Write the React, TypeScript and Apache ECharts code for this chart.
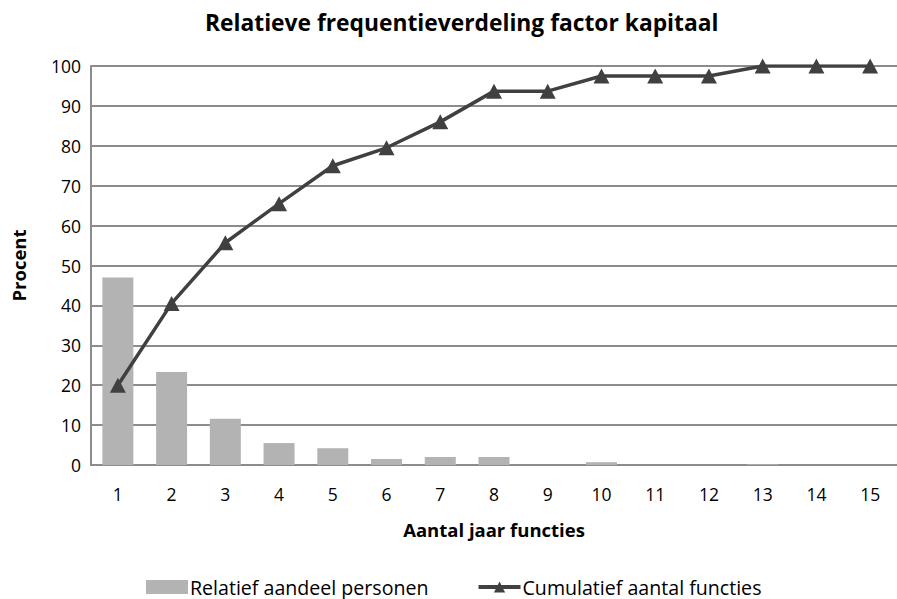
import React, { useEffect, useRef } from "react";
import * as echarts from "echarts";

const categories = ["1", "2", "3", "4", "5", "6", "7", "8", "9", "10", "11", "12", "13", "14", "15"];
const relatiefAandeel = [47, 23.3, 11.6, 5.5, 4.2, 1.5, 2.0, 2.0, 0, 0.7, 0, 0, 0.2, 0, 0];
const cumulatief = [20, 40.5, 55.7, 65.5, 75, 79.5, 86, 93.7, 93.7, 97.5, 97.5, 97.5, 100, 100, 100];
const yTicks = { min: 0, max: 100, interval: 10 };

const FONT = "'Open Sans', 'Noto Sans', sans-serif";

export default function App() {
  const ref = useRef<HTMLDivElement>(null);
  useEffect(() => {
    if (!ref.current) return;
    const chart = echarts.init(ref.current, undefined, { renderer: "svg" });
    chart.setOption({
      animation: false,
      backgroundColor: "#ffffff",
      textStyle: { fontFamily: FONT },
      title: {
        text: "Relatieve frequentieverdeling factor kapitaal",
        left: 200,
        top: 6,
        textStyle: { fontFamily: FONT, fontSize: 22.8, fontWeight: "bold", color: "#000" },
      },
      grid: { left: 91, top: 66, width: 811, height: 399, containLabel: false },
      legend: {
        bottom: -3,
        left: 141,
        itemWidth: 42,
        itemHeight: 14,
        itemGap: 48,
        textStyle: { fontFamily: FONT, fontSize: 19.6, color: "#000", padding: [0, 0, 0, -3] },
        data: [
          { name: "Relatief aandeel personen", icon: "rect" },
          { name: "Cumulatief aantal functies", lineStyle: { width: 4, color: "#404040" } },
        ],
      },
      xAxis: {
        type: "category",
        data: categories,
        name: "Aantal jaar functies",
        nameLocation: "middle",
        nameGap: 55,
        nameTextStyle: { fontFamily: FONT, fontSize: 18.5, fontWeight: "bold", color: "#000" },
        axisLine: { lineStyle: { color: "#8c8c8c", width: 2 } },
        axisTick: { show: false },
        axisLabel: { fontFamily: FONT, fontSize: 17.5, color: "#000", margin: 20 },
      },
      yAxis: {
        type: "value",
        min: yTicks.min,
        max: yTicks.max,
        interval: yTicks.interval,
        name: "Procent",
        nameLocation: "middle",
        nameGap: 63,
        nameRotate: 90,
        nameTextStyle: { fontFamily: FONT, fontSize: 18.5, fontWeight: "bold", color: "#000" },
        axisLine: { show: true, lineStyle: { color: "#8c8c8c", width: 2 } },
        axisTick: { show: false },
        axisLabel: { fontFamily: FONT, fontSize: 17.5, color: "#000", margin: 10 },
        splitLine: { lineStyle: { color: "#8c8c8c", width: 2 } },
      },
      series: [
        {
          name: "Relatief aandeel personen",
          type: "bar",
          data: relatiefAandeel,
          barWidth: 31,
          itemStyle: { color: "#b3b3b3" },
        },
        {
          name: "Cumulatief aantal functies",
          type: "line",
          data: cumulatief,
          symbol: "triangle",
          symbolSize: [16, 15],
          lineStyle: { color: "#404040", width: 3.5 },
          itemStyle: { color: "#404040" },
        },
      ],
    });
    return () => chart.dispose();
  }, []);
  return (
    <div
      ref={ref}
      style={{ position: "absolute", left: 0, top: 0, width: 897, height: 599 }}
    />
  );
}
